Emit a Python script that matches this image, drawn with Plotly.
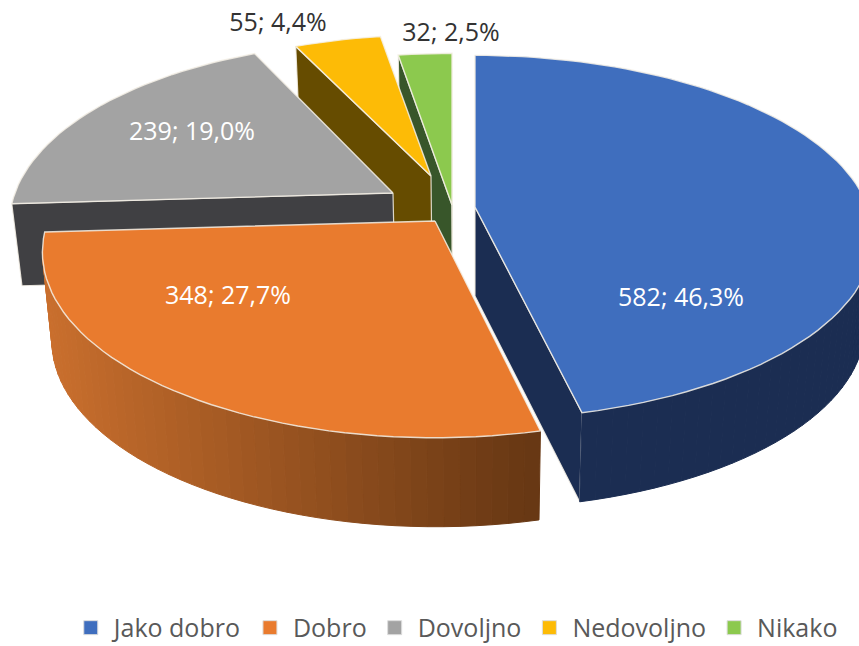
import math
import plotly.graph_objects as go

# --- data ---
categories = ["Jako dobro", "Dobro", "Dovoljno", "Nedovoljno", "Nikako"]
counts = [582, 348, 239, 55, 32]

# --- styles ---
top_colors = ["#3F6EBE", "#E97B2E", "#A3A3A3", "#FDBB06", "#8CC94E"]
wall_colors = ["#1B2D52", "#8A4A1C", "#404043", "#664C00", "#38562A"]
label_colors = ["white", "white", "white", "#333333", "#333333"]
edge_color = "rgba(245,240,230,0.85)"

# --- projection constants (page pixels) ---
W, H = 859, 646
apex = [(475, 207), (435, 221), (393, 193), (431, 176), (452, 205)]
label_pos = [(681, 300), (228, 298), (192, 134), (278, 25), (451, 35)]
scale_x = [1.0, 0.985, 0.962, 0.94, 1.0]
scale_y = [1.0, 1.02, 1.0, 0.93, 1.0]
depth = [89, 89, 82, 89, 89]
RX, RY, P = 393, 177, 0.167
SHRINK, VX = 0.978, 475


def project(o, angle, sx, sy):
    x, y = math.sin(angle), math.cos(angle)
    w = 1 + P * y
    return o[0] + sx * RX * x / w, o[1] - sy * RY * y / w


def drop(pt, d):
    return VX + (pt[0] - VX) * SHRINK, pt[1] + d


def poly(pts, fill, line=None, width=1.2):
    xs = [p[0] for p in pts] + [pts[0][0]]
    ys = [p[1] for p in pts] + [pts[0][1]]
    return go.Scatter(x=xs, y=ys, mode="lines", fill="toself", fillcolor=fill,
                      line=dict(color=line or fill, width=width),
                      hoverinfo="skip", showlegend=False)


def area(pts):
    return sum(pts[i][0] * pts[(i + 1) % len(pts)][1] - pts[(i + 1) % len(pts)][0] * pts[i][1]
               for i in range(len(pts))) / 2


def mix(a, b, t):
    return "rgb(%d,%d,%d)" % tuple(a[i] + (b[i] - a[i]) * t for i in range(3))


total = sum(counts)
angles = [0.0]
for c in counts:
    angles.append(angles[-1] + 2 * math.pi * c / total)

fig = go.Figure()

for i in [4, 3, 2, 1, 0]:
    a0, a1 = angles[i], angles[i + 1]
    o = apex[i]
    d = depth[i]
    n = max(4, int((a1 - a0) / math.radians(2)))
    arc = [project(o, a0 + (a1 - a0) * k / n, scale_x[i], scale_y[i]) for k in range(n + 1)]

    # radial walls, drawn only when they face the viewer
    for p_out, sign in ((arc[0], -1), (arc[-1], 1)):
        wall = [o, p_out, drop(p_out, d), drop(o, d)]
        if area(wall) * sign > 0:
            fig.add_trace(poly(wall, wall_colors[i], edge_color))

    # outer wall
    for k in range(n):
        p, q = arc[k], arc[k + 1]
        if q[0] < p[0]:
            seg = [p, q, drop(q, d), drop(p, d)]
            if i == 1:
                t = min(1, max(0, (p[0] - 40) / 495))
                col = mix((203, 112, 46), (104, 56, 20), t)
            else:
                col = wall_colors[i]
            fig.add_trace(poly(seg, col, col, 1))

    # top face
    fig.add_trace(poly([o] + arc, top_colors[i], edge_color, 1.4))

# data labels
labels = ["%d; %s%%" % (c, ("%.1f" % (100 * c / total)).replace(".", ",")) for c in counts]
for i in range(len(counts)):
    fig.add_trace(go.Scatter(x=[label_pos[i][0]], y=[label_pos[i][1]], mode="text", text=[labels[i]],
                             textposition="middle center",
                             textfont=dict(family="Open Sans", size=25, color=label_colors[i]),
                             hoverinfo="skip", showlegend=False))

# legend entries
for i, name in enumerate(categories):
    fig.add_trace(go.Scatter(x=[None], y=[None], mode="markers", name=name,
                             marker=dict(symbol="square", size=14, color=top_colors[i],
                                         line=dict(color="#dddddd", width=1))))

fig.update_layout(
    width=W, height=H, margin=dict(l=0, r=0, t=0, b=0, pad=0, autoexpand=False),
    paper_bgcolor="white", plot_bgcolor="white",
    xaxis=dict(range=[0, W], visible=False, domain=[0, 1]),
    yaxis=dict(range=[H, 0], visible=False, domain=[0, 1]),
    legend=dict(orientation="h", x=0.53, xanchor="center", y=0.028, yanchor="middle",
                font=dict(family="Open Sans", size=25, color="#595959"),
                bgcolor="rgba(0,0,0,0)", itemwidth=36, tracegroupgap=0),
)
fig.write_html("out.html", config={"displayModeBar": False},
               post_script="document.body.style.margin='0';document.documentElement.style.overflow='hidden';")
